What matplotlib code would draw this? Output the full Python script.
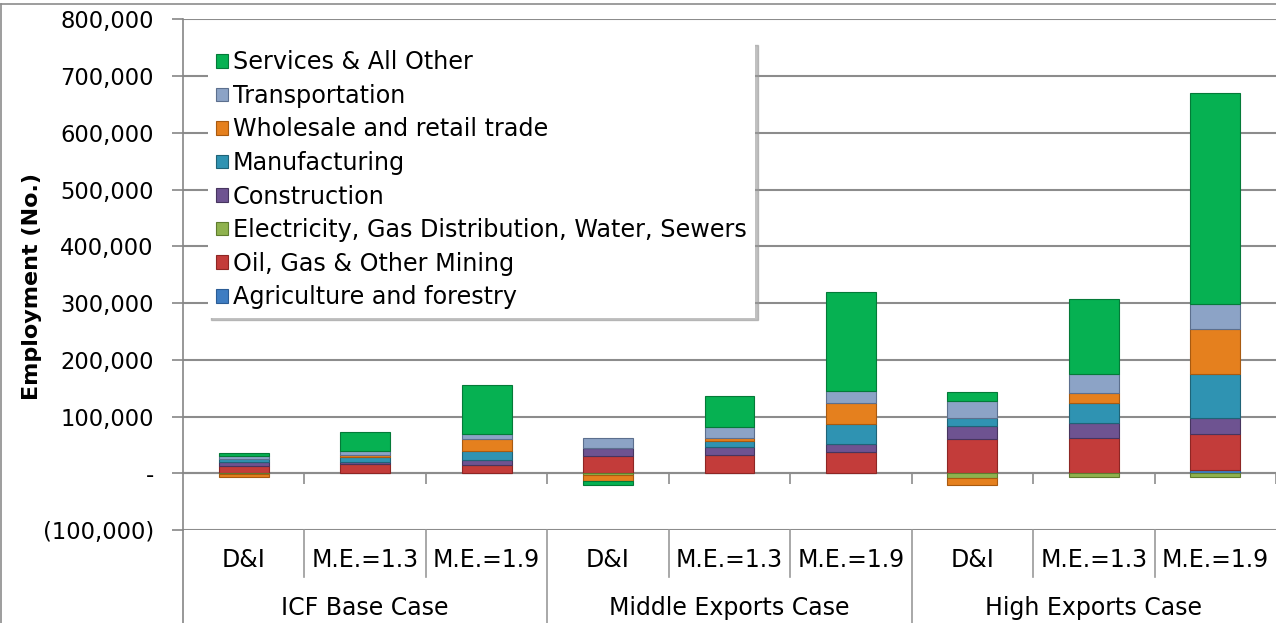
import numpy as np
import matplotlib
matplotlib.use('Agg')
import matplotlib.pyplot as plt
from matplotlib.ticker import FuncFormatter, FixedLocator
from matplotlib.lines import Line2D

plt.rcParams['font.family'] = ['DejaVu Sans']

sub_labels = ['D&I', 'M.E.=1.3', 'M.E.=1.9'] * 3
group_labels = ['ICF Base Case', 'Middle Exports Case', 'High Exports Case']

# employment by sector for each case
agriculture = [0, 0, 0, 0, 0, 0, 0, 0, 6000]
oil_gas_mining = [13000, 16000, 15000, 31000, 32000, 37000, 60000, 63000, 64000]
electricity = [-2000, 0, 0, -3000, 0, 0, -8000, -7000, -6000]
construction = [6000, 4000, 9000, 14000, 15000, 14000, 24000, 26000, 28000]
manufacturing = [6000, 8000, 16000, 0, 10000, 36000, 14000, 35000, 77000]
wholesale = [-5000, 3500, 20000, -10000, 6000, 36000, -13500, 18000, 80000]
transportation = [6000, 8000, 9000, 16500, 19000, 22000, 30000, 33000, 44000]
services = [5000, 33500, 86000, -7500, 54000, 175000, 16000, 132000, 372000]

series = [
    ('Agriculture and forestry', agriculture, '#3F7DC2', '#2B5C95'),
    ('Oil, Gas & Other Mining', oil_gas_mining, '#C33C3A', '#8E2624'),
    ('Electricity, Gas Distribution, Water, Sewers', electricity, '#8FB24E', '#5F7C2E'),
    ('Construction', construction, '#6E5391', '#47355F'),
    ('Manufacturing', manufacturing, '#2F93B2', '#1F6377'),
    ('Wholesale and retail trade', wholesale, '#E5801E', '#A85A10'),
    ('Transportation', transportation, '#8CA3C6', '#5C6F8E'),
    ('Services & All Other', services, '#06B152', '#047A38'),
]

fig = plt.figure(figsize=(12.76, 6.23), dpi=100)
ax = fig.add_axes([183 / 1276, 93 / 623, 1 - 183 / 1276, (530 - 19.3) / 623])

x = np.arange(len(sub_labels))
pos = np.zeros(len(x))
neg = np.zeros(len(x))
handles = []
for name, vals, color, edge in series:
    v = np.array(vals, dtype=float)
    bottom = np.where(v >= 0, pos, neg)
    ax.bar(x, v, 0.41, bottom=bottom, color=color, edgecolor=edge, linewidth=0.8, zorder=3)
    pos = pos + np.clip(v, 0, None)
    neg = neg + np.clip(v, None, 0)
    handles.append((name, color, edge))

ax.set_xlim(-0.5, len(x) - 0.5)
ax.set_ylim(-100000, 800000)
ax.set_yticks(np.arange(-100000, 800001, 100000))


def fmt(val, _):
    if val == 0:
        return '-'
    if val < 0:
        return '({:,.0f})'.format(-val)
    return '{:,.0f}'.format(val)


ax.yaxis.set_major_formatter(FuncFormatter(fmt))
ax.tick_params(axis='y', labelsize=16.3, length=8, width=1.2, color='#868686', pad=13)
ax.grid(axis='y', color='#8c8c8c', linewidth=1.5, zorder=0)
ax.set_axisbelow(True)

# category axis crosses at zero, labels sit below the plot
ax.spines['bottom'].set_position(('data', 0))
ax.spines['bottom'].set_color('#8c8c8c')
ax.spines['bottom'].set_linewidth(1.5)
ax.spines['bottom'].set_zorder(2)
ax.xaxis.set_major_locator(FixedLocator(np.arange(0.5, len(x), 1.0)))
ax.xaxis.set_ticklabels([])
ax.tick_params(axis='x', length=8, width=1.2, color='#8c8c8c', direction='out')
ax.spines['left'].set_color('#868686')
ax.spines['left'].set_linewidth(1.2)
for s in ['top', 'right']:
    ax.spines[s].set_visible(False)

trans = ax.get_xaxis_transform()
fig_bottom = -(93 / 623) / ((530 - 19.3) / 623)
inner_bottom = -((577 - 530) / 623) / ((530 - 19.3) / 623)
ax.plot([-0.5, -0.5], [0, fig_bottom], transform=trans, color='#868686', lw=1.2, clip_on=False)
for b in np.arange(0.5, len(x) - 1, 1.0):
    end = fig_bottom if b in (2.5, 5.5) else inner_bottom
    ax.plot([b, b], [0, end], transform=trans, color='#9a9a9a', lw=1.2, clip_on=False)
for i, lab in enumerate(sub_labels):
    ax.text(i, -0.059, lab, transform=trans, ha='center', va='center', fontsize=17)
for g, lab in enumerate(group_labels):
    ax.text(3 * g + 1, -0.153, lab, transform=trans, ha='center', va='center', fontsize=17)

fig.text(32 / 1276, 1 - 287 / 623, 'Employment (No.)', rotation=90, ha='center', va='center',
         fontsize=16, fontweight='bold')

leg_handles = [plt.Rectangle((0, 0), 1, 1, facecolor=c, edgecolor=e, linewidth=0.8)
               for _, c, e in handles][::-1]
leg_labels = [n for n, _, _ in handles][::-1]
leg = ax.legend(leg_handles, leg_labels, loc='upper left', bbox_to_anchor=(208 / 1276, 1 - 42 / 623),
                bbox_transform=fig.transFigure, borderaxespad=0, fontsize=17.2, frameon=True,
                fancybox=False, shadow={'color': '#999999', 'alpha': 0.6}, handlelength=0.5,
                handleheight=0.5, handletextpad=0.2, labelspacing=0.4, borderpad=0.35)
leg.get_frame().set_edgecolor('none')
leg.get_frame().set_alpha(1)
leg.set_zorder(5)

# chart area border (top and left visible)
fig.add_artist(Line2D([1 / 1276, 1 / 1276], [0, 1 - 4 / 623], color='#8c8c8c', lw=1.2))
fig.add_artist(Line2D([1 / 1276, 1], [1 - 4 / 623, 1 - 4 / 623], color='#8c8c8c', lw=1.2))

fig.savefig('out.png', dpi=100)
